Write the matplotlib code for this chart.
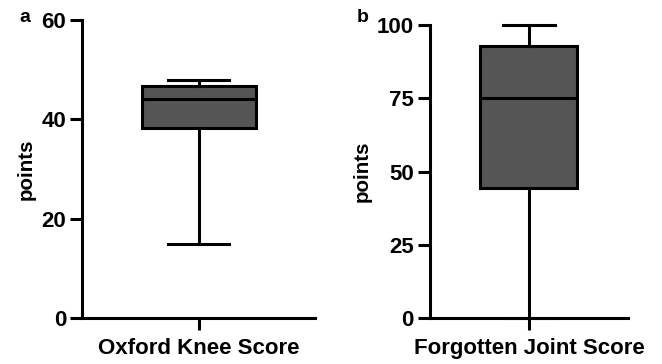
import matplotlib.pyplot as plt

plt.rcParams["font.family"] = ["Liberation Sans", "DejaVu Sans"]
plt.rcParams["font.weight"] = "bold"

# box statistics
labels = ["Oxford Knee Score", "Forgotten Joint Score"]
panel_tags = ["a", "b"]
whislo = [15.0, 0.0]
q1 = [38.3, 44.3]
med = [44.1, 75.0]
q3 = [46.8, 93.0]
whishi = [48.0, 100.0]
yticks = [[0, 20, 40, 60], [0, 25, 50, 75, 100]]
ytop = [60, 100]

fill = "#555555"
lw = 2.2

fig = plt.figure(figsize=(6.62, 3.64), dpi=100)
rects = [[0.124, 0.126, 0.352, 0.819], [0.6495, 0.126, 0.299, 0.805]]

for i in range(2):
    ax = fig.add_axes(rects[i])
    stats = [dict(whislo=whislo[i], q1=q1[i], med=med[i], q3=q3[i],
                  whishi=whishi[i], fliers=[])]
    art = ax.bxp(stats, positions=[1], widths=0.49, capwidths=0.26,
                 patch_artist=True, showfliers=False,
                 boxprops=dict(facecolor=fill, edgecolor="black", linewidth=lw),
                 medianprops=dict(color="black", linewidth=lw),
                 whiskerprops=dict(color="black", linewidth=lw),
                 capprops=dict(color="black", linewidth=lw))
    for k in art:
        for a in art[k]:
            a.set_clip_on(False)
    ax.set_xlim(0.5, 1.5)
    ax.set_ylim(0, ytop[i])
    ax.set_yticks(yticks[i])
    ax.set_xticks([1])
    ax.set_xticklabels([labels[i]], fontsize=17.3, fontweight="bold")
    ax.set_ylabel("points", fontsize=14.8, fontweight="bold", labelpad=4)
    for s in ["top", "right"]:
        ax.spines[s].set_visible(False)
    for s in ["left", "bottom"]:
        ax.spines[s].set_linewidth(lw)
    ax.tick_params(axis="both", width=lw, length=8.5, labelsize=16, pad=3)
    ax.tick_params(axis="x", pad=6)
    for t in ax.get_yticklabels():
        t.set_fontweight("bold")

fig.text(25 / 662, 1 - 17 / 364, panel_tags[0], fontsize=14, fontweight="bold",
         ha="center", va="center")
fig.text(363 / 662, 1 - 18 / 364, panel_tags[1], fontsize=14, fontweight="bold",
         ha="center", va="center")

fig.savefig("out.png", dpi=100)
